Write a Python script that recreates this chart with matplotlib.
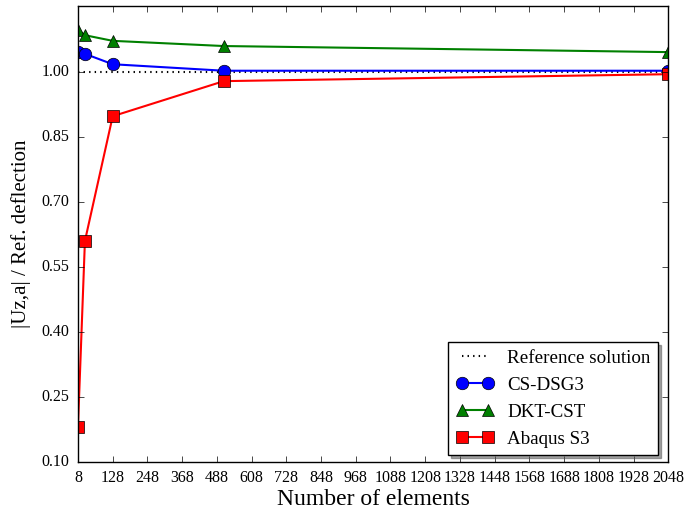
import matplotlib
matplotlib.use('Agg')
import matplotlib.pyplot as plt
import numpy as np

plt.style.use('classic')
plt.rcParams['font.family'] = ['Liberation Serif', 'DejaVu Serif']

# number of elements
n_elem = [8, 32, 128, 512, 2048]
ref_sol = [1.0, 1.0, 1.0, 1.0, 1.0]
cs_dsg3 = [1.046, 1.042, 1.018, 1.003, 1.003]
dkt_cst = [1.097, 1.085, 1.072, 1.060, 1.046]
abaqus_s3 = [0.181, 0.610, 0.898, 0.979, 0.995]

xticks = np.arange(8, 2049, 120)
yticks = [0.10, 0.25, 0.40, 0.55, 0.70, 0.85, 1.00]

fig = plt.figure(figsize=(6.84, 5.15), dpi=100, facecolor='white')
ax = fig.add_axes([0.114, 0.103, 0.863, 0.885])

ax.plot(n_elem, ref_sol, 'k:', lw=1.5, label='Reference solution')
ax.plot(n_elem, cs_dsg3, 'b-o', lw=1.5, ms=9, label='CS-DSG3')
ax.plot(n_elem, dkt_cst, 'g-^', lw=1.5, ms=9, label='DKT-CST')
ax.plot(n_elem, abaqus_s3, 'r-s', lw=1.5, ms=9, label='Abaqus S3')

ax.set_xlim(8, 2048)
ax.set_ylim(0.10, 1.152)
ax.set_xticks(xticks)
ax.set_yticks(yticks)
ax.set_yticklabels(['%.2f' % v for v in yticks])
ax.tick_params(labelsize=11.5, pad=6)

ax.set_xlabel('Number of elements', fontsize=17, labelpad=2)
ax.set_ylabel('|Uz,a| / Ref. deflection', fontsize=15, labelpad=8)

leg = ax.legend(loc='lower right', bbox_to_anchor=(0.983, 0.015), fontsize=13.7,
                shadow=True, fancybox=False, numpoints=2, borderaxespad=0,
                handlelength=2.0, handletextpad=0.7)

fig.savefig('out.png', dpi=100, facecolor='white')
